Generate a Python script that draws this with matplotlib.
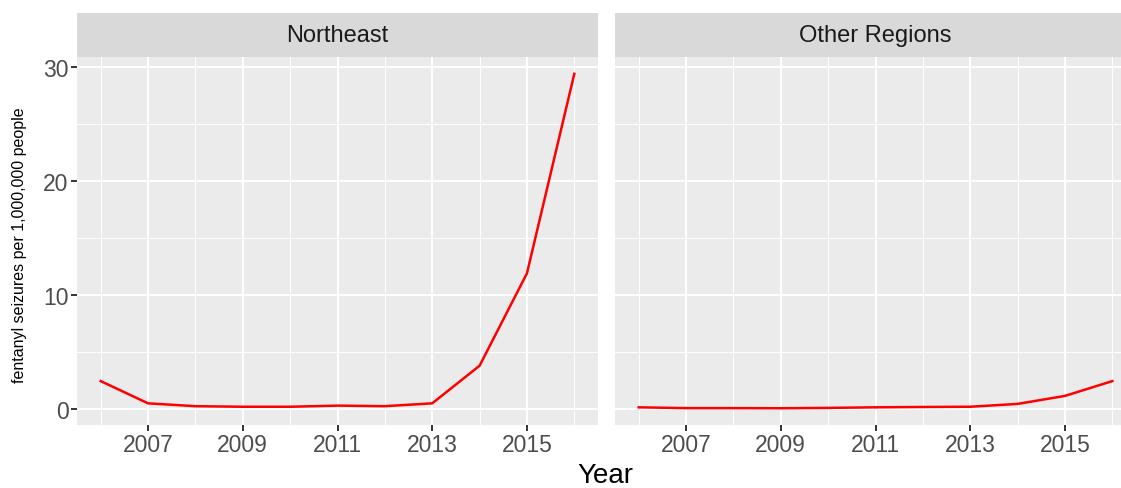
import matplotlib
matplotlib.use("Agg")
from matplotlib import pyplot as plt
from matplotlib.ticker import FixedLocator

# data
years = [2006, 2007, 2008, 2009, 2010, 2011, 2012, 2013, 2014, 2015, 2016]
northeast = [2.45, 0.5, 0.25, 0.2, 0.2, 0.3, 0.25, 0.5, 3.8, 11.9, 29.4]
other_regions = [0.15, 0.08, 0.08, 0.07, 0.1, 0.15, 0.18, 0.2, 0.45, 1.15, 2.45]
panels = ["Northeast", "Other Regions"]
x_major = [2007, 2009, 2011, 2013, 2015]
x_minor = [2006, 2008, 2010, 2012, 2014, 2016]
y_major = [0, 10, 20, 30]
y_minor = [5, 15, 25]

plt.rcParams['font.family'] = ['Liberation Sans', 'DejaVu Sans']

W, H = 1121, 489
fig = plt.figure(figsize=(W / 100, H / 100), dpi=100)

panel_bottom = 1 - 426 / H
panel_h = 368 / H
strip_h = 44 / H
panel_w = 521 / W
lefts = [77 / W, 615 / W]

ymin, ymax = -1.4, 30.87
for i, (name, vals) in enumerate(zip(panels, [northeast, other_regions])):
    ax = fig.add_axes([lefts[i], panel_bottom, panel_w, panel_h])
    ax.set_facecolor('#EBEBEB')
    for s in ax.spines.values():
        s.set_visible(False)
    ax.set_xlim(2005.5, 2016.5)
    ax.set_ylim(ymin, ymax)
    ax.xaxis.set_major_locator(FixedLocator(x_major))
    ax.xaxis.set_minor_locator(FixedLocator(x_minor))
    ax.yaxis.set_major_locator(FixedLocator(y_major))
    ax.yaxis.set_minor_locator(FixedLocator(y_minor))
    ax.grid(which='major', color='white', lw=1.4)
    ax.grid(which='minor', color='white', lw=0.7)
    ax.set_axisbelow(True)
    ax.tick_params(which='major', length=4, width=1.4, color='#333333',
                   labelcolor='#4D4D4D', labelsize=16.5, pad=2)
    ax.tick_params(which='minor', length=0)
    if i > 0:
        ax.tick_params(axis='y', which='major', length=0, labelleft=False)
    ax.plot(years, vals, color='red', lw=1.8)

    sax = fig.add_axes([lefts[i], panel_bottom + panel_h, panel_w, strip_h])
    sax.set_facecolor('#D9D9D9')
    sax.set_xticks([])
    sax.set_yticks([])
    for s in sax.spines.values():
        s.set_visible(False)
    sax.text(0.5, 0.5, name, ha='center', va='center', fontsize=17,
             color='#1A1A1A', transform=sax.transAxes)

fig.text(605 / W, 1 - 476 / H, "Year", ha='center', va='center', fontsize=20)
fig.text(20 / W, 1 - 245 / H, "fentanyl seizures per 1,000,000 people",
         rotation=90, ha='center', va='center', fontsize=11.5)

fig.savefig("out.png", dpi=100)
